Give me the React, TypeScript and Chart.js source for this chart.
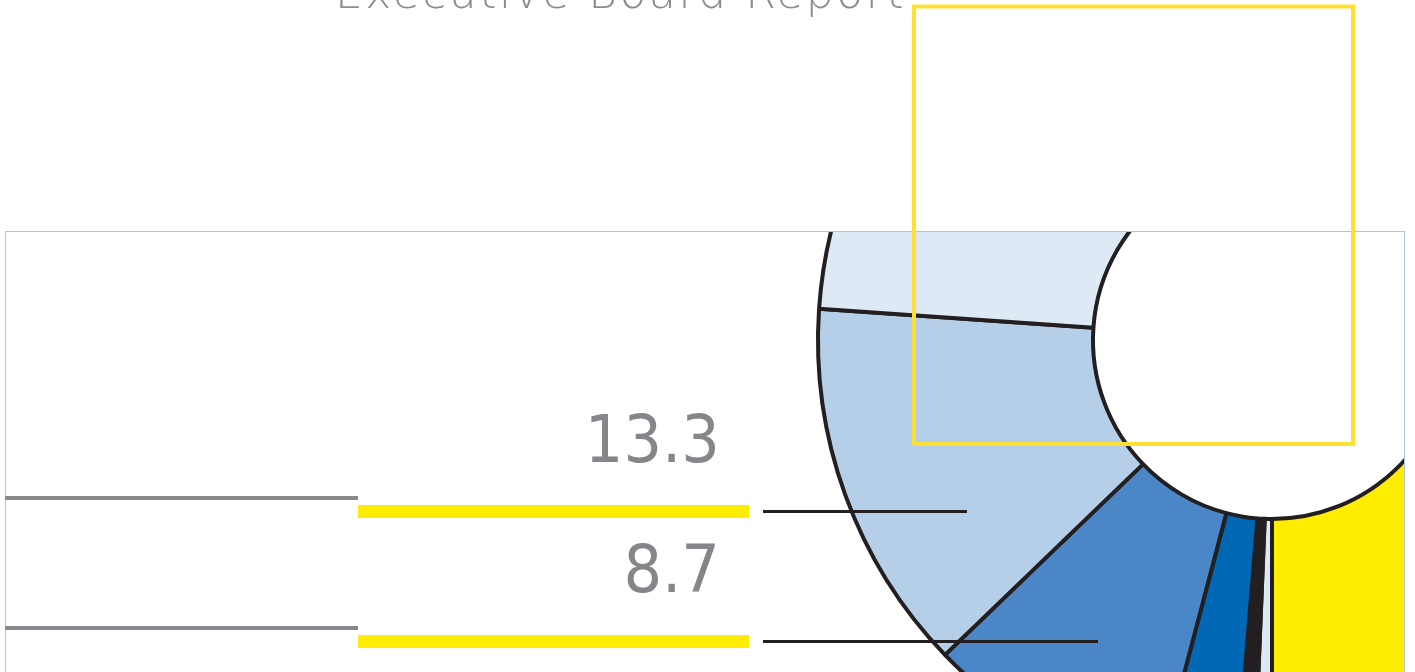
import React, { useEffect, useRef } from "react";
import { Chart, registerables } from "chart.js";

Chart.register(...registerables);

// ---- data ----
const titleText = "Executive Board Report";
const segmentLabels = ["Segment 1", "Segment 2", "Segment 3", "Segment 4", "Segment 5", "Segment 6", "Segment 7"];
const segmentValues = [0.65, 0.65, 2.8, 8.7, 13.3, 14.6, 59.3];
const calloutSegments = [4, 3]; // indices of segments whose values are called out (13.3, 8.7)

// ---- styles ----
const segmentColors = ["#dde9f5", "#231f20", "#0068b4", "#4b87c6", "#b5cfe9", "#dde9f5", "#ffed00"];
const calloutRowsY = [462, 592]; // label baselines
const calloutLeaderEnds = [967, 1098];

const boxRect = { left: 5, top: 231, right: 1404, bottom: 672 };

const overlayPlugin = {
  id: "overlay",
  afterDatasetsDraw(chart: any) {
    const ctx: CanvasRenderingContext2D = chart.ctx;
    ctx.save();
    // title
    ctx.fillStyle = "#8b8c8f";
    ctx.font = '200 44px "DejaVu Sans"';
    (ctx as any).letterSpacing = "2.5px";
    ctx.textAlign = "left";
    ctx.textBaseline = "alphabetic";
    ctx.fillText(titleText, 335, 8);
    (ctx as any).letterSpacing = "0px";

    // box border
    ctx.strokeStyle = "#aec5df";
    ctx.lineWidth = 1;
    ctx.strokeRect(boxRect.left + 0.5, boxRect.top + 0.5, boxRect.right - boxRect.left, boxRect.bottom - boxRect.top + 20);

    // callouts
    calloutSegments.forEach((segIdx, i) => {
      const base = calloutRowsY[i];
      const v = segmentValues[segIdx];
      ctx.save();
      ctx.translate(720, base);
      ctx.scale(0.92, 1);
      ctx.fillStyle = "#858689";
      ctx.font = '66px "DejaVu Sans"';
      ctx.textAlign = "right";
      ctx.fillText(v.toFixed(1), 0, 0);
      ctx.restore();
      ctx.fillStyle = "#88898c";
      ctx.fillRect(5, base + 34, 353, 4);
      ctx.fillStyle = "#ffed00";
      ctx.fillRect(358, base + 43, 391, 13);
      ctx.fillStyle = "#231f20";
      ctx.fillRect(763, base + 48, calloutLeaderEnds[i] - 763, 3);
    });

    // yellow frame
    ctx.strokeStyle = "#fee034";
    ctx.lineWidth = 4;
    ctx.strokeRect(914, 6.5, 439, 437.5);
    ctx.restore();
  },
};

export default function App() {
  const ref = useRef<HTMLCanvasElement | null>(null);
  useEffect(() => {
    if (!ref.current) return;
    const chart = new Chart(ref.current, {
      type: "doughnut",
      data: {
        labels: segmentLabels,
        datasets: [
          {
            data: segmentValues,
            backgroundColor: segmentColors,
            borderColor: "#231f20",
            borderWidth: 4,
            hoverBorderWidth: 4,
            hoverOffset: 0,
            borderAlign: "center",
            clip: { left: 1134, top: 0, right: 0, bottom: 224 },
          } as any,
        ],
      },
      options: {
        animation: false,
        responsive: false,
        devicePixelRatio: 1,
        events: [],
        rotation: 180,
        radius: 454,
        cutout: "39.43%",
        layout: { padding: { left: 1140, right: 11, top: 232, bottom: 224 } },
        plugins: { legend: { display: false }, tooltip: { enabled: false }, title: { display: false } },
      } as any,
      plugins: [overlayPlugin],
    });
    return () => chart.destroy();
  }, []);
  return (
    <div style={{ position: "fixed", left: 0, top: 0, width: 1415, height: 672, background: "#fff", overflow: "hidden" }}>
      <canvas ref={ref} width={1415} height={672} style={{ display: "block", width: 1415, height: 672 }} />
    </div>
  );
}
